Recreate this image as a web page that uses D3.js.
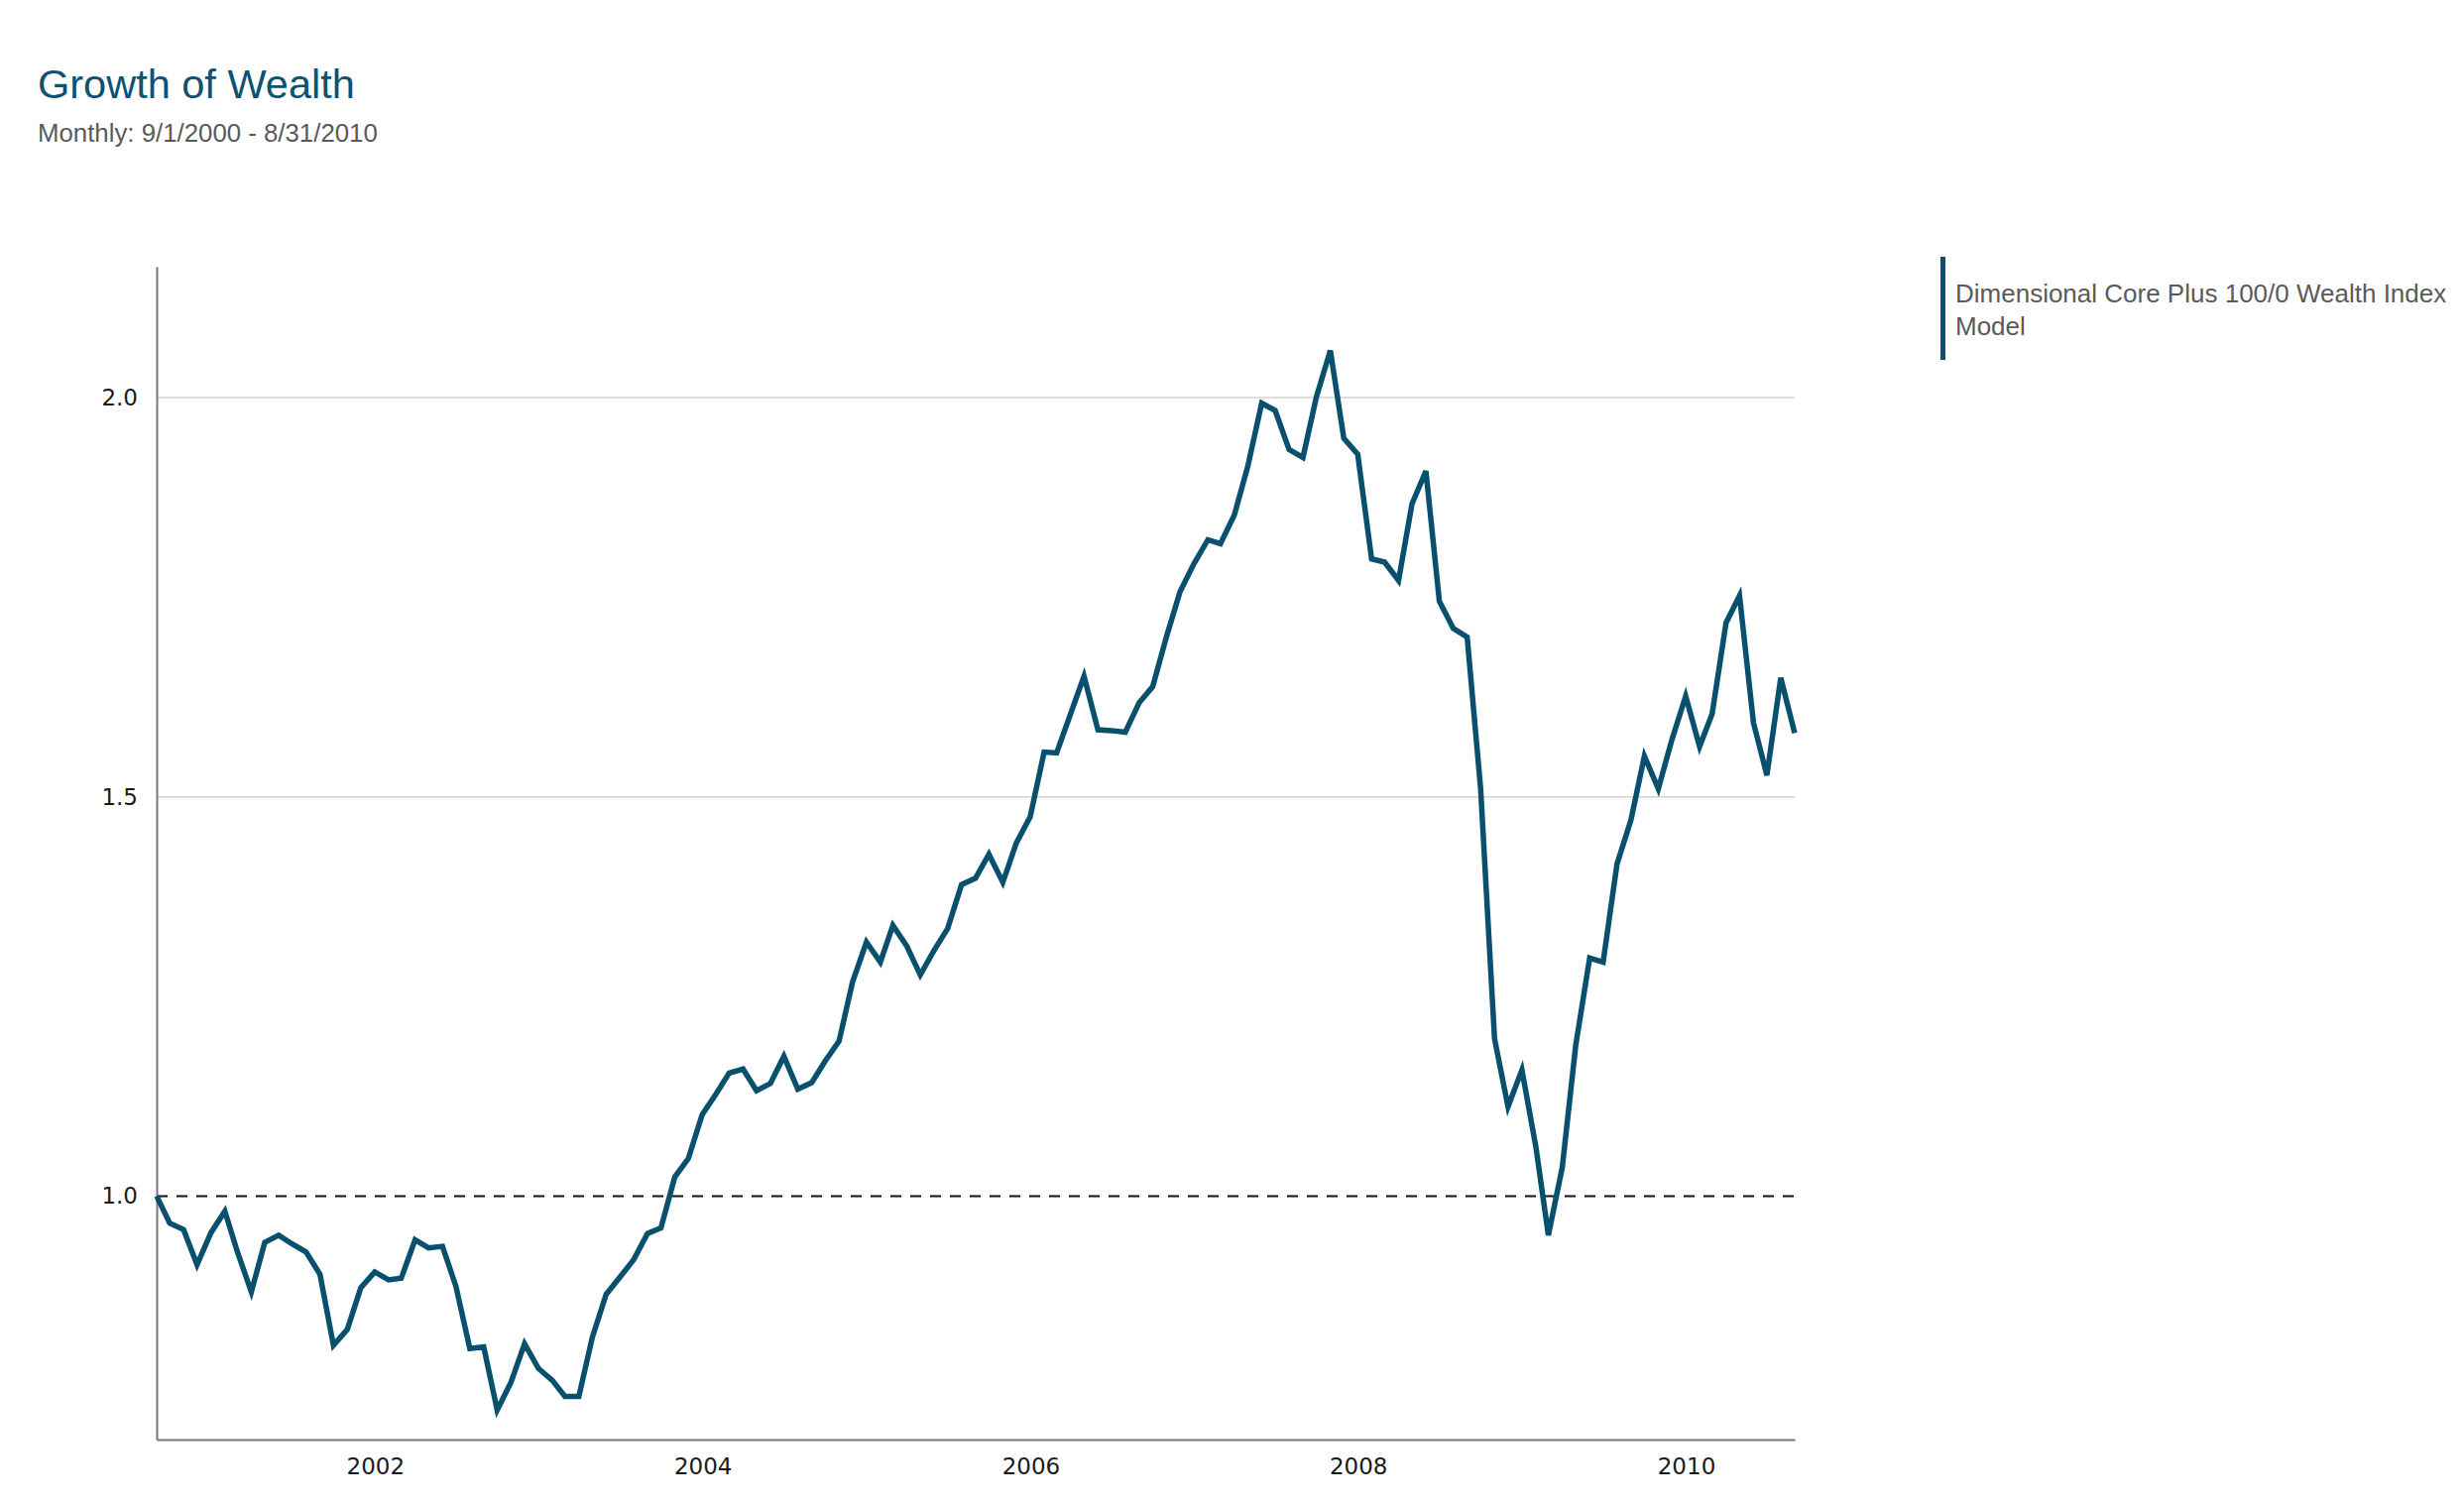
<!DOCTYPE html>
<html>
<head>
<meta charset="utf-8">
<script src="https://cdn.jsdelivr.net/npm/d3@7/dist/d3.min.js"></script>
<style>
  html, body { margin: 0; padding: 0; background: #fff; }
  svg { display: block; }
</style>
</head>
<body>
<svg id="chart" width="2485" height="1517"></svg>
<script>
// ---- data ----
const titleText = "Growth of Wealth";
const subtitleText = "Monthly: 9/1/2000 - 8/31/2010";
const seriesName = "Dimensional Core Plus 100/0 Wealth Index Model";
const startDate = "2000-09-01";
const endDate = "2010-08-31";
// first value on 9/1/2000, then one per month end (9/30/2000 ... 8/31/2010)
const wealthValues = [
  1.000,
  0.966, 0.958, 0.914, 0.954, 0.981, 0.930, 0.880, 0.942, 0.951, 0.940, 0.930, 0.902,
  0.813, 0.833, 0.885, 0.905, 0.895, 0.897, 0.945, 0.935, 0.937, 0.887, 0.809, 0.811,
  0.732, 0.767, 0.815, 0.784, 0.769, 0.749, 0.749, 0.823, 0.877, 0.898, 0.920, 0.953,
  0.960, 1.024, 1.047, 1.102, 1.128, 1.154, 1.159, 1.132, 1.141, 1.175, 1.134, 1.142,
  1.169, 1.194, 1.268, 1.318, 1.293, 1.339, 1.313, 1.277, 1.308, 1.335, 1.390, 1.398,
  1.428, 1.393, 1.442, 1.475, 1.556, 1.555, 1.604, 1.651, 1.584, 1.583, 1.581, 1.618,
  1.638, 1.701, 1.757, 1.792, 1.822, 1.817, 1.853, 1.914, 1.993, 1.984, 1.935, 1.925,
  2.001, 2.059, 1.949, 1.929, 1.798, 1.794, 1.771, 1.867, 1.908, 1.745, 1.711, 1.700,
  1.510, 1.197, 1.112, 1.158, 1.062, 0.951, 1.036, 1.189, 1.298, 1.293, 1.416, 1.471,
  1.551, 1.510, 1.571, 1.626, 1.563, 1.604, 1.718, 1.752, 1.593, 1.527, 1.649, 1.580
];
const xTickYears = [2002, 2004, 2006, 2008, 2010];
const yTickValues = [1.0, 1.5, 2.0];
const gridValues = [1.5, 2.0];
const baselineValue = 1.0;
const yDomain = [0.695, 2.164];

// ---- dates (category axis) ----
const parse = d3.utcParse("%Y-%m-%d");
const start = parse(startDate);
const end = parse(endDate);
const monthEnds = d3.utcMonth
  .range(d3.utcMonth.offset(start, 1), d3.utcDay.offset(end, 2))
  .map(d => d3.utcDay.offset(d, -1));
const dates = [start, ...monthEnds];
const data = dates.map((d, i) => ({ date: d, value: wealthValues[i] }));

// ---- layout ----
const color = "#09506f";
const plot = { left: 158, right: 1810, top: 269, bottom: 1452 };
const svg = d3.select("#chart");

const x = d3.scaleUtc().domain([start, end]).range([plot.left, plot.right]);
const y = d3.scaleLinear().domain(yDomain).range([plot.bottom, plot.top]);

// title
svg.append("text")
  .attr("x", 38).attr("y", 99)
  .attr("font-family", "Liberation Sans, Arial, sans-serif")
  .attr("font-size", 41.5)
  .attr("fill", "#0b5273")
  .text(titleText);
svg.append("text")
  .attr("x", 38).attr("y", 143)
  .attr("font-family", "Liberation Sans, Arial, sans-serif")
  .attr("font-size", 25.8)
  .attr("fill", "#5a5a5a")
  .text(subtitleText);

// gridlines
svg.append("g").selectAll("line").data(gridValues).join("line")
  .attr("x1", plot.left).attr("x2", plot.right)
  .attr("y1", d => y(d)).attr("y2", d => y(d))
  .attr("stroke", "#d2d2d2").attr("stroke-width", 1.6);

// baseline dashed
svg.append("line")
  .attr("x1", plot.left).attr("x2", plot.right)
  .attr("y1", y(baselineValue)).attr("y2", y(baselineValue))
  .attr("stroke", "#111").attr("stroke-width", 2)
  .attr("stroke-dasharray", "11,9");

// axes
const tickFont = "DejaVu Sans, Verdana, sans-serif";
const xAxis = d3.axisBottom(x)
  .tickValues(xTickYears.map(yr => new Date(Date.UTC(yr, 0, 1))))
  .tickFormat(d3.utcFormat("%Y"))
  .tickSizeInner(0).tickSizeOuter(0).tickPadding(19);
const gx = svg.append("g").attr("transform", `translate(0,${plot.bottom})`).call(xAxis);
gx.select(".domain").attr("stroke", "#777").attr("stroke-width", 2);
gx.selectAll("text").attr("font-family", tickFont).attr("font-size", 23).attr("fill", "#1a1a1a");

const yAxis = d3.axisLeft(y)
  .tickValues(yTickValues)
  .tickFormat(d3.format(".1f"))
  .tickSizeInner(0).tickSizeOuter(0).tickPadding(19);
const gy = svg.append("g").attr("transform", `translate(${plot.left},0)`).call(yAxis);
gy.select(".domain").attr("stroke", "#777").attr("stroke-width", 2);
gy.selectAll("text").attr("font-family", tickFont).attr("font-size", 23).attr("fill", "#1a1a1a");

// line
const line = d3.line().x(d => x(d.date)).y(d => y(d.value));
svg.append("path")
  .datum(data)
  .attr("fill", "none")
  .attr("stroke", color)
  .attr("stroke-width", 5.5)
  .attr("stroke-linejoin", "miter")
  .attr("d", line);

// legend
const lg = svg.append("g");
lg.append("rect")
  .attr("x", 1957).attr("y", 259).attr("width", 5).attr("height", 104)
  .attr("fill", color);
const words = seriesName.split(" ");
const lines = [words.slice(0, 6).join(" "), words.slice(6).join(" ")];
lg.selectAll("text").data(lines).join("text")
  .attr("x", 1972)
  .attr("y", (d, i) => 305 + i * 33)
  .attr("font-family", "Liberation Sans, Arial, sans-serif")
  .attr("font-size", 26)
  .attr("fill", "#5a5a5a")
  .text(d => d);
</script>
</body>
</html>
